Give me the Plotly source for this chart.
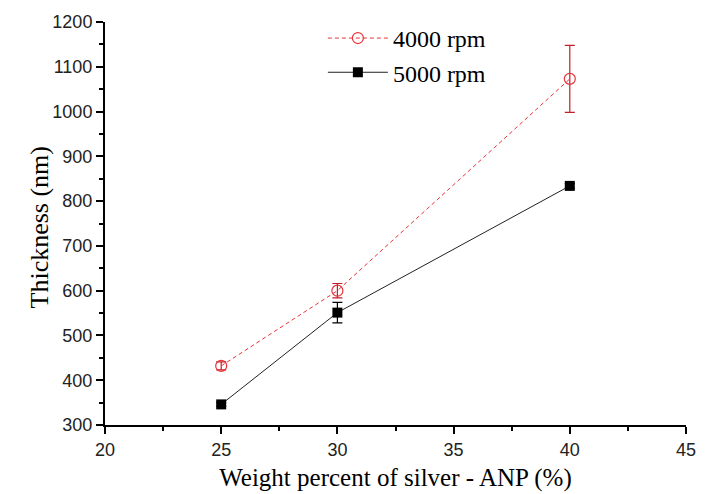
import plotly.graph_objects as go

x_vals = [25, 30, 40]
rpm4000 = [432, 600, 1073]
rpm4000_err = [9, 16, 75]
rpm5000 = [346, 551, 834]
rpm5000_err = [4, 23, 5]

fig = go.Figure()
fig.add_trace(go.Scatter(
    x=x_vals, y=rpm4000, name="4000 rpm", mode="lines+markers",
    line=dict(color="#e8333a", width=1, dash="4px,3px"),
    marker=dict(symbol="circle-open", size=11, color="#e8333a", line=dict(width=1.2)),
    error_y=dict(type="data", array=rpm4000_err, visible=True, color="#c0202a", thickness=1.2, width=5),
))
fig.add_trace(go.Scatter(
    x=x_vals, y=rpm5000, name="5000 rpm", mode="lines+markers",
    line=dict(color="#222222", width=1),
    marker=dict(symbol="square", size=10, color="black"),
    error_y=dict(type="data", array=rpm5000_err, visible=True, color="black", thickness=1.2, width=5),
))

axis_common = dict(
    showgrid=False, zeroline=False, showline=True, linecolor="black", linewidth=2,
    ticks="outside", ticklen=7, tickwidth=1.5, tickcolor="black",
    tickfont=dict(family="Liberation Sans, Arial", size=18, color="#222"),
    mirror=False, automargin=True,
)
fig.update_xaxes(range=[20, 45], dtick=5, **axis_common,
                 minor=dict(dtick=2.5, ticks="outside", ticklen=4, tickwidth=1.5, tickcolor="black"),
                 title=dict(text="Weight percent of silver - ANP (%)",
                            font=dict(family="Liberation Serif, Times New Roman", size=25, color="black"),
                            standoff=10))
fig.update_yaxes(range=[300, 1200], dtick=100, **axis_common,
                 minor=dict(dtick=50, ticks="outside", ticklen=4, tickwidth=1.5, tickcolor="black"))
fig.add_annotation(text="Thickness (nm)", xref="paper", yref="paper", x=-0.112, y=0.49,
                   xanchor="center", yanchor="middle", textangle=-90, showarrow=False,
                   font=dict(family="Liberation Serif, Times New Roman", size=26, color="black"))
# page body has an 8px margin, so the figure is 720x486 placed at (8, 8)
fig.update_layout(
    width=720, height=486,
    margin=dict(l=97, r=42, t=14, b=69, autoexpand=False),
    plot_bgcolor="white", paper_bgcolor="white",
    legend=dict(x=0.375, y=1.015, xanchor="left", yanchor="top",
                font=dict(family="Liberation Serif, Times New Roman", size=24, color="black"),
                bgcolor="rgba(0,0,0,0)", tracegroupgap=0, itemwidth=60),
)
fig.write_html("out.html")
